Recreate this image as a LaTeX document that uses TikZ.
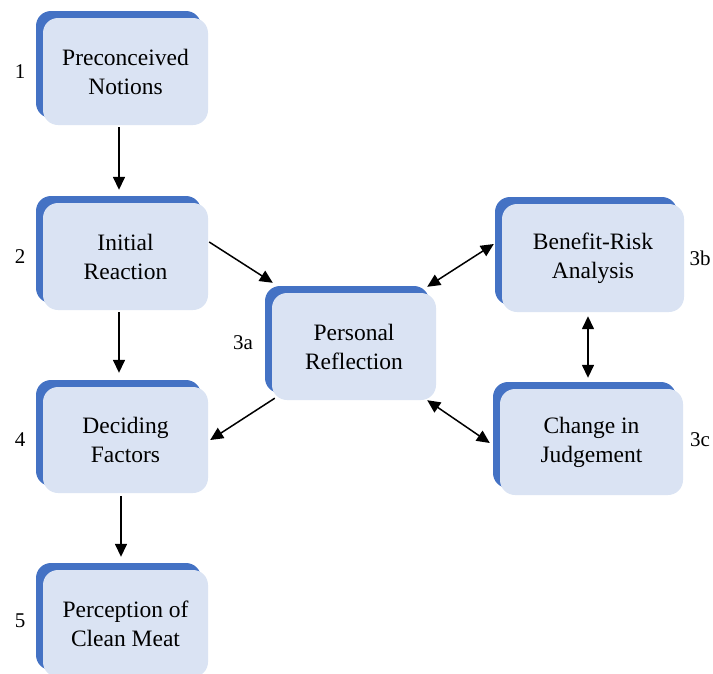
\documentclass[tikz,border=0pt]{standalone}
\usepackage{fontspec}
\setmainfont{Liberation Serif}
\usetikzlibrary{shadows,calc,arrows.meta}
\definecolor{boxfill}{HTML}{DAE3F3}
\definecolor{boxblue}{HTML}{4472C4}
\tikzset{
  stagebox/.style={draw=none, fill=boxfill, rounded corners=15pt, align=center,
    font=\fontsize{23.5}{29}\selectfont, inner sep=0pt,
    general shadow={fill=boxblue, shadow xshift=-7pt, shadow yshift=7pt}},
  numlabel/.style={font=\fontsize{21}{26}\selectfont, inner sep=0pt},
  arr/.style={line width=1.5pt, -{Triangle[length=13pt,width=12pt]}},
  darr/.style={line width=1.5pt, {Triangle[length=13pt,width=12pt]}-{Triangle[length=13pt,width=12pt]}}
}
\begin{document}
\begin{tikzpicture}[x=1pt,y=-1pt]
\useasboundingbox (0,0) rectangle (713,673);
\node[stagebox, minimum width=165pt, minimum height=107pt] (n1) at (125.5,71.5) {Preconceived\\Notions};
\node[stagebox, minimum width=165pt, minimum height=107pt] (n2) at (125.5,256.5) {Initial\\Reaction};
\node[stagebox, minimum width=165pt, minimum height=106pt] (n4) at (125.5,440) {Deciding\\Factors};
\node[stagebox, minimum width=165pt, minimum height=107pt] (n5) at (125.5,623.5) {Perception of\\Clean Meat};
\node[stagebox, minimum width=164pt, minimum height=107pt] (n3a) at (354,346.5) {Personal\\Reflection};
\node[stagebox, minimum width=182pt, minimum height=108pt] (n3b) at (593,258) {Benefit-Risk\\Analysis};
\node[stagebox, minimum width=183pt, minimum height=106pt] (n3c) at (591.5,442) {Change in\\Judgement};

\node[numlabel] (l1) at (20,72) {1};
\node[numlabel] (l2) at (20,257) {2};
\node[numlabel] (l3a) at (243,343) {3a};
\node[numlabel] (l4) at (20,440) {4};
\node[numlabel] (l5) at (20,621) {5};
\node[numlabel] (l3b) at (700,258) {3b};
\node[numlabel] (l3c) at (700,440) {3c};

\draw[arr] ($(n1.south)+(-6.5,2)$) -- ($(n2.north)+(-6.5,-13)$);
\draw[arr] ($(n2.south)+(-6.5,2)$) -- ($(n4.north)+(-6.5,-14)$);
\draw[arr] ($(n4.south)+(-4.5,3)$) -- ($(n5.north)+(-4.5,-13)$);
\draw[arr] ($(n2.east)+(1,-14.5)$) -- ($(n3a.north west)+(1,-10)$);
\draw[arr] ($(n3a.south west)+(3,-2)$) -- ($(n4.east)+(2,0)$);
\draw[darr] ($(n3a.north east)+(-9,-6)$) -- ($(n3b.west)+(-8,-14)$);
\draw[darr] ($(n3b.south)+(-5,4)$) -- ($(n3c.north)+(-3.5,-11)$);
\draw[darr] ($(n3a.south east)+(-9,0)$) -- ($(n3c.west)+(-10,1)$);
\end{tikzpicture}
\end{document}
